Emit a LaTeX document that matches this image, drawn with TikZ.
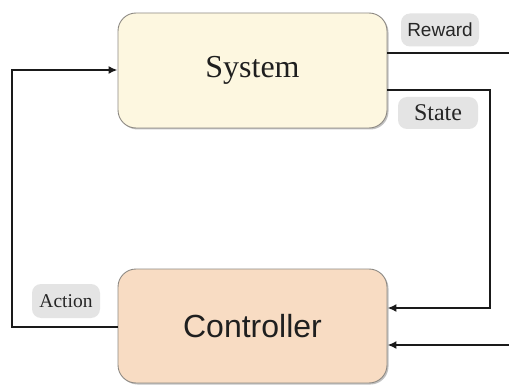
\documentclass[tikz,border=0pt]{standalone}
\usepackage{fontspec}
\setmainfont{Liberation Serif}
\newfontfamily\arialish{Liberation Sans}
\usetikzlibrary{arrows.meta,shadows}
\definecolor{sysfill}{HTML}{FDF7E0}
\definecolor{ctlfill}{HTML}{F8DCC3}
\definecolor{boxedge}{HTML}{8E8A84}
\definecolor{tagfill}{HTML}{E4E4E4}
\definecolor{wire}{HTML}{1A1A1A}
\tikzset{
  block/.style={draw=boxedge, line width=0.9pt, rounded corners=18pt,
    minimum width=269pt, minimum height=115pt, inner sep=0pt, text=black!88,
    drop shadow={shadow xshift=1.5pt, shadow yshift=-1.5pt, opacity=0.4, fill=black!60}},
  tag/.style={fill=tagfill, rounded corners=9pt, inner sep=0pt, text=black!85},
  wireline/.style={draw=wire, line width=2.2pt},
  feed/.style={wireline, -{Latex[length=9pt,width=8pt]}}
}
\begin{document}
\begin{tikzpicture}[x=1pt,y=-1pt]
  \useasboundingbox[fill=white] (0,0) rectangle (509,385);

  % the two blocks
  \node[block, fill=sysfill, font=\fontsize{32}{36}\selectfont] (sys) at (252.5,70.5) {System};
  \node[block, fill=ctlfill, minimum height=114pt, font=\arialish\fontsize{32}{36}\selectfont] (ctl) at (252.5,326) {Controller};

  % signal tags
  \node[tag, minimum width=78pt, minimum height=33pt, font=\arialish\fontsize{19}{22}\selectfont] (rwtag) at (440,30) {Reward};
  \node[tag, minimum width=80pt, minimum height=32pt, font=\fontsize{24}{28}\selectfont] (sttag) at (438,113) {State};
  \node[tag, minimum width=68pt, minimum height=34pt, font=\fontsize{19.5}{24}\selectfont] (actag) at (66,301) {Action};

  % routing points
  \coordinate (rwout) at (509,53);
  \coordinate (stout) at (490,90);
  \coordinate (stin) at (490,308);
  \coordinate (extin) at (509,345);
  \coordinate (acout) at (12,327);
  \coordinate (acin) at (12,70);

  % reward leaves the picture
  \draw[wireline] (rwout -| sys.east) -- (rwout);
  % state goes back to the controller
  \draw[feed] (stout -| sys.east) -- (stout) -- (stin) -- (stin -| ctl.east);
  % second input of the controller
  \draw[feed] (extin) -- (extin -| ctl.east);
  % action drives the system
  \draw[feed] (acout -| ctl.west) -- (acout) -- (acin) -- (acin -| sys.west);
\end{tikzpicture}
\end{document}
